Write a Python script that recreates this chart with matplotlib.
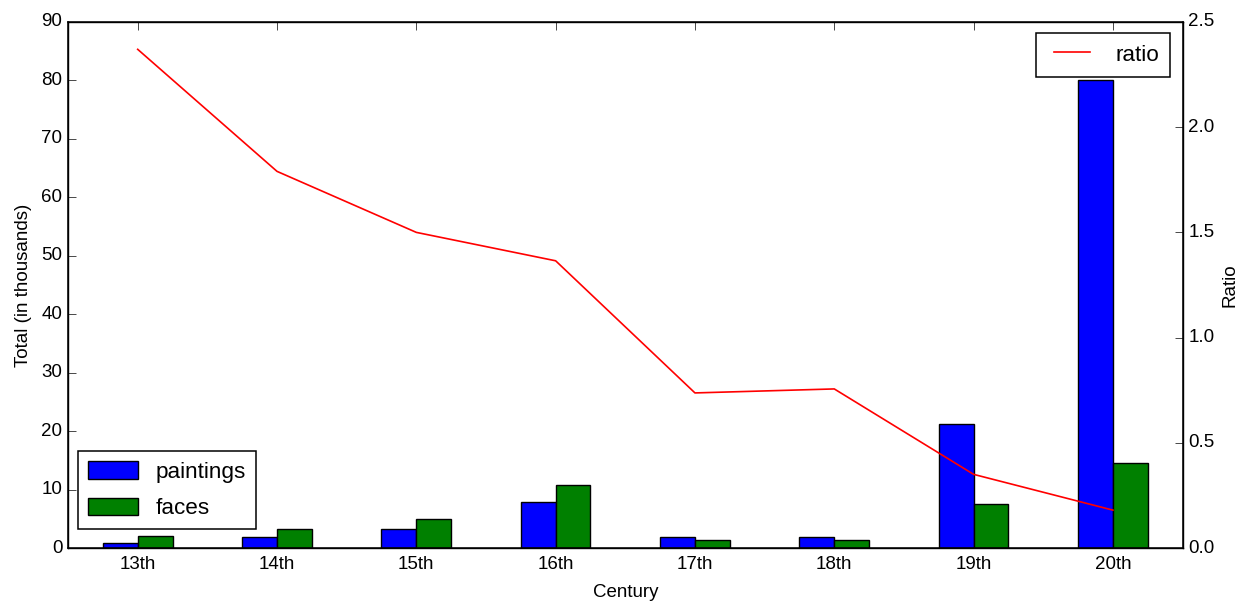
import matplotlib
matplotlib.use("Agg")
import matplotlib.pyplot as plt
import numpy as np

plt.style.use("classic")
plt.rcParams['font.family'] = ['Liberation Sans', 'DejaVu Sans']

centuries = ["13th", "14th", "15th", "16th", "17th", "18th", "19th", "20th"]
paintings = [0.8, 1.8, 3.3, 7.8, 1.8, 1.8, 21.3, 80.0]
faces = [2.0, 3.2, 4.9, 10.7, 1.35, 1.35, 7.6, 14.6]
ratio = [2.37, 1.79, 1.50, 1.365, 0.737, 0.756, 0.350, 0.18]

fig = plt.figure(figsize=(12.37, 6.02), dpi=100)
ax = fig.add_axes([0.055, 0.0897, 0.901, 0.8738])
x = np.arange(len(centuries))
w = 0.25
ax.bar(x - w / 2, paintings, w, color="blue", edgecolor="black", linewidth=1.0, label="paintings")
ax.bar(x + w / 2, faces, w, color="green", edgecolor="black", linewidth=1.0, label="faces")
ax.set_xlim(-0.5, len(centuries) - 0.5)
ax.set_ylim(0, 90)
ax.set_xticks(x)
ax.set_xticklabels(centuries)
ax.set_xlabel("Century", fontsize=13.5, labelpad=8)
ax.set_ylabel("Total (in thousands)", fontsize=13.5, labelpad=7)
ax.tick_params(axis="both", labelsize=13.5, length=5.5, direction="in")
ax.tick_params(axis="x", pad=6)
ax.tick_params(axis="y", right=False)
ax.tick_params(axis="x", top=True)
for s in ax.spines.values():
    s.set_linewidth(1.1)

ax2 = ax.twinx()
ax2.plot(x, ratio, color="red", linewidth=1.2, label="ratio")
ax2.set_ylim(0, 2.5)
ax2.set_ylabel("Ratio", fontsize=13.5)
ax2.tick_params(axis="y", labelsize=13.5, length=5.5, direction="in", left=False)
ax2.set_xlim(-0.5, len(centuries) - 0.5)

leg1 = ax.legend(loc="lower left", bbox_to_anchor=(0.009, 0.036), borderaxespad=0,
                 fontsize=16.2, handlelength=2.2, handleheight=0.8, labelspacing=0.65,
                 borderpad=0.45, fancybox=False)
leg1.get_frame().set_linewidth(1.1)
leg2 = ax2.legend(loc="upper right", bbox_to_anchor=(0.989, 0.979), borderaxespad=0,
                  fontsize=16.2, handlelength=2.2, handleheight=0.8,
                  borderpad=0.5, fancybox=False)
leg2.get_frame().set_linewidth(1.1)

fig.savefig("out.png", dpi=100)
